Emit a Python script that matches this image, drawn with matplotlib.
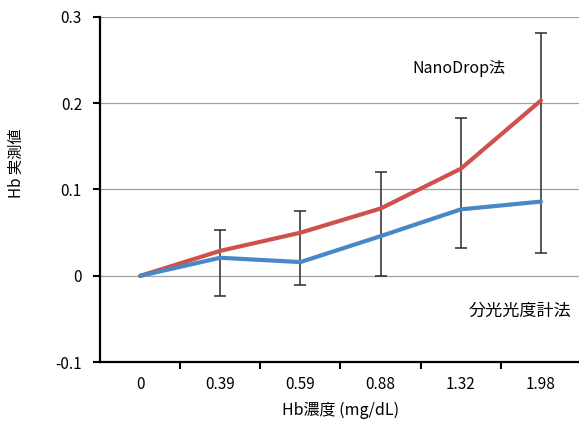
import matplotlib.pyplot as plt
import numpy as np

plt.rcParams['font.family'] = ['Noto Sans CJK JP', 'DejaVu Sans']

categories = ['0', '0.39', '0.59', '0.88', '1.32', '1.98']
nanodrop = [0.0, 0.029, 0.050, 0.078, 0.124, 0.203]
spectro = [0.0, 0.021, 0.016, 0.046, 0.077, 0.086]
# error bars: upper on NanoDrop, lower on spectrophotometer
nanodrop_err_up = [np.nan, 0.024, 0.025, 0.042, 0.059, 0.078]
spectro_err_down = [np.nan, 0.044, 0.026, 0.046, 0.045, 0.059]
y_ticks = [-0.1, 0, 0.1, 0.2, 0.3]
y_ticklabels = ['-0.1', '0', '0.1', '0.2', '0.3']

fig = plt.figure(figsize=(5.79, 4.23), dpi=100)
ax = fig.add_axes([100 / 579, 1 - 362.3 / 423, 481 / 579, 345.6 / 423])

x = np.arange(len(categories))
red = '#D0504C'
blue = '#4A87C7'

# error bars spanning from blue lower end to red upper end
nd = np.array(nanodrop)
sp = np.array(spectro)
hi = nd + np.array(nanodrop_err_up)
lo = sp - np.array(spectro_err_down)
mask = ~np.isnan(hi)
ax.errorbar(x[mask], nd[mask], yerr=[nd[mask] - lo[mask], hi[mask] - nd[mask]],
            fmt='none', ecolor='#2a2a2a', elinewidth=1.1, capsize=4, capthick=1.1, zorder=2)

ax.plot(x, nanodrop, color=red, lw=3, solid_capstyle='round', zorder=3)
ax.plot(x, spectro, color=blue, lw=3, solid_capstyle='round', zorder=3)

ax.set_xlim(-0.5, 5.5)
ax.set_ylim(-0.1, 0.3)
ax.set_yticks(y_ticks)
ax.set_yticklabels(y_ticklabels)
ax.set_xticks(x)
ax.set_xticklabels(categories)
ax.set_xticks(np.arange(0.5, 5.6, 1), minor=True)
ax.tick_params(axis='x', which='major', length=0, pad=10, labelsize=11)
ax.tick_params(axis='x', which='minor', length=5, width=1.5, direction='out')
ax.tick_params(axis='y', length=5, width=1.5, direction='out', pad=8, labelsize=11)
ax.yaxis.grid(True, color='#a0a0a0', lw=0.9)
ax.set_axisbelow(True)

for s in ['top', 'right']:
    ax.spines[s].set_visible(False)
for s in ['left', 'bottom']:
    ax.spines[s].set_linewidth(1.6)

ax.set_ylabel('Hb 実測値', fontsize=11)
ax.yaxis.set_label_coords(-0.157, 0.577)
ax.set_xlabel('Hb濃度 (mg/dL)', fontsize=11.5, labelpad=6)

ax.text(3.98, 0.24, 'NanoDrop法', fontsize=11.5, ha='center', va='center')
ax.text(4.74, -0.041, '分光光度計法', fontsize=12.3, ha='center', va='center')

fig.savefig('out.png', dpi=100)
